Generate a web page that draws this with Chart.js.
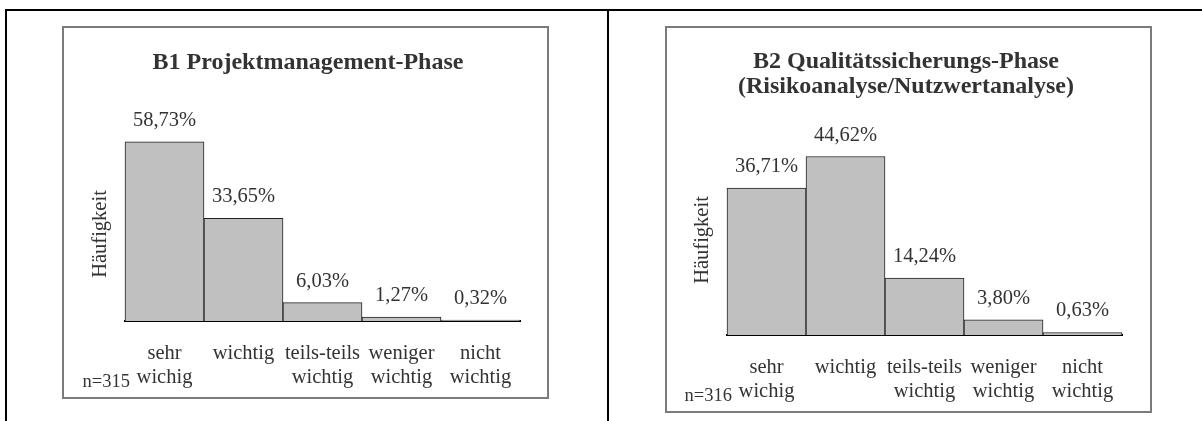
<!DOCTYPE html>
<html lang="de">
<head>
    <meta charset="UTF-8">
    <title>Wichtigkeit der Phasen</title>
    <script src="https://cdn.jsdelivr.net/npm/chart.js"></script>
    <style>
        body {
            margin: 0;
            background: #fff;
            font-family: "Liberation Serif", "Times New Roman", serif;
        }

        .page {
            position: relative;
            width: 1202px;
            height: 421px;
            overflow: hidden;
        }

        /* table rules */
        .rule {
            position: absolute;
            background: #000;
        }

        .box {
            position: absolute;
            box-sizing: border-box;
            border: 2px solid #7b7b7b;
            background: #fff;
        }

        .box canvas {
            display: block;
        }
    </style>
</head>
<body>
<div class="page">
    <div class="rule" style="left:5px; top:9px; width:1197px; height:2px;"></div>
    <div class="rule" style="left:5px; top:9px; width:2px; height:412px;"></div>
    <div class="rule" style="left:607px; top:9px; width:2px; height:412px;"></div>

    <div class="box" style="left:62px; top:26px; width:487px; height:373px;">
        <canvas id="chartB1" width="483" height="369"></canvas>
    </div>
    <div class="box" style="left:665px; top:26px; width:487px; height:387px;">
        <canvas id="chartB2" width="483" height="383"></canvas>
    </div>
</div>

<script>
    // answer categories (multi-line labels)
    const categories = [['sehr', 'wichig'], 'wichtig', ['teils-teils', 'wichtig'], ['weniger', 'wichtig'], ['nicht', 'wichtig']];

    // share of answers in percent
    const b1Values = [58.73, 33.65, 6.03, 1.27, 0.32];
    const b2Values = [36.71, 44.62, 14.24, 3.80, 0.63];

    const b1Title = ['B1 Projektmanagement-Phase'];
    const b2Title = ['B2 Qualitätssicherungs-Phase', '(Risikoanalyse/Nutzwertanalyse)'];

    const b1Count = 315;
    const b2Count = 316;

    const yAxisLabel = 'Häufigkeit';

    const textColor = '#333';
    const serif = '"Liberation Serif", "Times New Roman", serif';

    function formatPct(v) {
        return v.toFixed(2).replace('.', ',') + '%';
    }

    // value labels above bars, panel title and sample size
    const panelText = {
        id: 'panelText',
        afterDraw(chart, args, opts) {
            const ctx = chart.ctx;
            const values = chart.data.datasets[0].data;
            ctx.save();
            ctx.fillStyle = textColor;
            ctx.textAlign = 'center';
            ctx.textBaseline = 'alphabetic';

            ctx.font = '20.5px ' + serif;
            chart.getDatasetMeta(0).data.forEach((bar, i) => {
                ctx.fillText(formatPct(values[i]), bar.x, bar.y - 16);
            });

            ctx.font = 'bold 24px ' + serif;
            opts.title.forEach((line, i) => {
                ctx.fillText(line, opts.titleX, opts.titleY + i * 25);
            });

            ctx.textAlign = 'left';
            ctx.font = '18.5px ' + serif;
            const area = chart.chartArea;
            ctx.fillText('n=' + opts.n, area.left - 42.5, area.bottom + 65.5);
            ctx.restore();
        }
    };

    function makeChart(id, values, title, n, box) {
        const ctx = document.getElementById(id).getContext('2d');
        return new Chart(ctx, {
            type: 'bar',
            data: {
                labels: categories,
                datasets: [{
                    data: values,
                    backgroundColor: '#c0c0c0',
                    borderColor: '#222',
                    borderWidth: 1,
                    categoryPercentage: 1,
                    barPercentage: 1,
                    clip: false
                }]
            },
            options: {
                responsive: false,
                animation: false,
                layout: {
                    padding: { left: 0, right: box.padRight, top: box.top, bottom: 0 }
                },
                scales: {
                    x: {
                        z: 1,
                        grid: { display: false },
                        border: { display: true, color: '#000', width: 2 },
                        ticks: {
                            color: textColor,
                            padding: 12,
                            maxRotation: 0,
                            autoSkip: false,
                            font: { family: serif, size: 20.5, lineHeight: 1.2 }
                        },
                        afterFit: (scale) => { scale.height = box.xHeight; }
                    },
                    y: {
                        min: 0,
                        max: box.yMax,
                        grid: { display: false },
                        border: { display: false },
                        ticks: { display: false },
                        title: {
                            display: true,
                            text: yAxisLabel,
                            color: textColor,
                            padding: { top: box.yTitlePad, bottom: 0 },
                            font: { family: serif, size: 20.5, lineHeight: 1.2 }
                        },
                        afterFit: (scale) => { scale.width = box.yWidth; }
                    }
                },
                plugins: {
                    legend: { display: false },
                    tooltip: { enabled: false },
                    panelText: { title: title, n: n, titleX: box.titleX, titleY: box.titleY }
                }
            },
            plugins: [panelText]
        });
    }

    makeChart('chartB1', b1Values, b1Title, b1Count, {
        top: 119, padRight: 27, xHeight: 76, yWidth: 61, yMax: 57,
        yTitlePad: 24.7, titleX: 244, titleY: 41.3
    });

    makeChart('chartB2', b2Values, b2Title, b2Count, {
        top: 117, padRight: 28, xHeight: 76, yWidth: 60, yMax: 47.5,
        yTitlePad: 23.4, titleX: 239, titleY: 40.3
    });
</script>
</body>
</html>
